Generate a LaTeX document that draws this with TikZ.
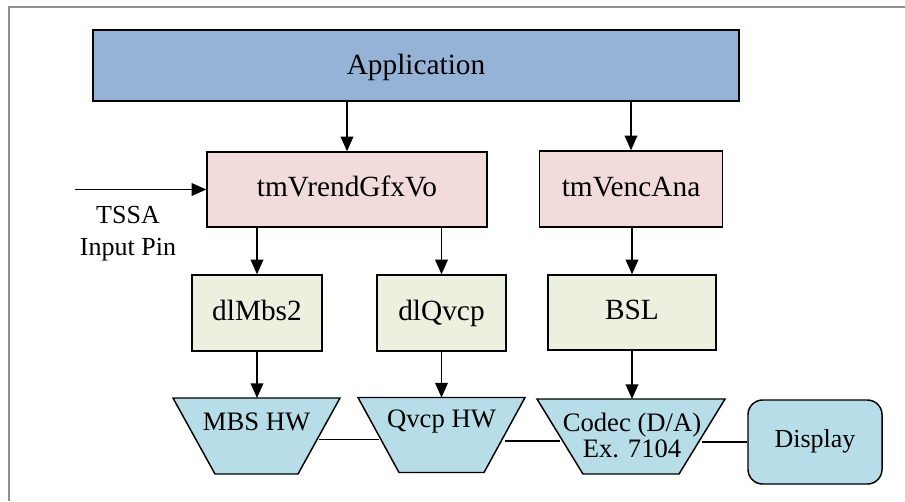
\documentclass[tikz,border=0pt]{standalone}
\usepackage{fontspec}
\setmainfont{Liberation Serif}
\usetikzlibrary{arrows.meta}
\definecolor{appblue}{HTML}{95B3D7}
\definecolor{swpink}{HTML}{F2DCDB}
\definecolor{drvgreen}{HTML}{EBF1DE}
\definecolor{hwblue}{HTML}{B7DEE8}
\definecolor{framegray}{HTML}{909090}
\tikzset{
  box/.style={draw=black, line width=1.1pt, inner sep=0pt,
    font=\fontsize{22pt}{22pt}\selectfont,
    text height=15.5pt, text depth=4.5pt},
  hwanchor/.style={inner sep=0pt, outer sep=0pt},
  hwshape/.style={draw=black, line width=1.1pt, fill=hwblue, line join=miter},
  txt/.style={inner sep=0pt, font=\fontsize{19.5pt}{19.5pt}\selectfont},
  hwtxt/.style={inner sep=0pt, font=\fontsize{20pt}{20pt}\selectfont},
  arr/.style={line width=1.1pt, -{Triangle[length=11pt,width=9.5pt]}},
  link/.style={line width=1.1pt}
}
\begin{document}
\begin{tikzpicture}[x=0.75pt, y=-0.75pt]
\useasboundingbox (0,0) rectangle (905,501);
% frame
\draw[framegray, line width=1.5pt] (8.5,501) -- (8.5,6.5) -- (905,6.5);

% boxes
\node[box, fill=appblue, text height=18.5pt, text depth=4.3pt, minimum width={646*0.75pt}, minimum height={71*0.75pt}] (app) at (416,65.5) {Application};
\node[box, fill=swpink, minimum width={280*0.75pt}, minimum height={75*0.75pt}] (vrend) at (347,189.5) {tmVrendGfxVo};
\node[box, fill=swpink, minimum width={183*0.75pt}, minimum height={76*0.75pt}] (venc) at (631,189) {tmVencAna};
\node[box, fill=drvgreen, minimum width={130*0.75pt}, minimum height={76*0.75pt}] (mbs2) at (257,313) {dlMbs2};
\node[box, fill=drvgreen, minimum width={129*0.75pt}, minimum height={76*0.75pt}] (dlq) at (441.5,313) {dlQvcp};
\node[box, fill=drvgreen, minimum width={168*0.75pt}, minimum height={75*0.75pt}] (bsl) at (632,312.5) {BSL};
\node[box, fill=hwblue, rounded corners=11pt, font=\fontsize{19.5pt}{19.5pt}\selectfont, text height=13.5pt, text depth=6pt, minimum width={134*0.75pt}, minimum height={84*0.75pt}] (disp) at (815,442) {Display};

% hardware trapezoids (anchor rectangles at mid-height width)
\node[hwanchor, minimum width={125*0.75pt}, minimum height={76*0.75pt}] (mbshw) at (256.5,436) {};
\node[hwanchor, minimum width={126*0.75pt}, minimum height={75*0.75pt}] (qvcphw) at (441.5,435) {};
\node[hwanchor, minimum width={142*0.75pt}, minimum height={75*0.75pt}] (codec) at (631,436.5) {};
\draw[hwshape] ([xshift={-21*0.75pt}]mbshw.north west) -- ([xshift={21*0.75pt}]mbshw.north east)
  -- ([xshift={-21*0.75pt}]mbshw.south east) -- ([xshift={21*0.75pt}]mbshw.south west) -- cycle;
\draw[hwshape] ([xshift={-20.5*0.75pt}]qvcphw.north west) -- ([xshift={20.5*0.75pt}]qvcphw.north east)
  -- ([xshift={-20.5*0.75pt}]qvcphw.south east) -- ([xshift={20.5*0.75pt}]qvcphw.south west) -- cycle;
\draw[hwshape] ([xshift={-23*0.75pt}]codec.north west) -- ([xshift={23*0.75pt}]codec.north east)
  -- ([xshift={-23*0.75pt}]codec.south east) -- ([xshift={23*0.75pt}]codec.south west) -- cycle;
\node[hwtxt, anchor=base] (mbst) at (256.5,430) {MBS HW};
\node[hwtxt, anchor=base] (qvcpt) at (441.5,427) {Qvcp HW};
\node[hwtxt, anchor=base] (codect1) at (632,431) {Codec (D/A)};
\node[hwtxt, anchor=base] (codect2) at (632,457) {Ex. 7104};

% input pin
\coordinate (inpin) at (75,189.5);
\node[txt, anchor=base] (tssa) at (128,223) {TSSA};
\node[txt, anchor=base] (inpint) at (128,255) {Input Pin};

% connectors
\draw[arr] (app.south -| vrend.north) -- (vrend.north);
\draw[arr] (app.south -| venc.north) -- (venc.north);
\draw[arr] (inpin) -- (vrend.west);
\draw[arr] (vrend.south -| mbs2.north) -- (mbs2.north);
\draw[arr] (vrend.south -| dlq.north) -- (dlq.north);
\draw[arr] (venc.south -| bsl.north) -- (bsl.north);
\draw[arr] (mbs2.south) -- (mbs2.south |- mbshw.north);
\draw[arr] (dlq.south) -- (dlq.south |- qvcphw.north);
\draw[arr] (bsl.south) -- (bsl.south |- codec.north);
\draw[link] ([yshift=-2.5pt]mbshw.east) -- ([yshift=-2.5pt]mbshw.east -| qvcphw.west);
\draw[link] ([yshift=-4.5pt]qvcphw.east) -- ([yshift=-4.5pt]qvcphw.east -| codec.west);
\draw[link] ([yshift=-4pt]codec.east) -- ([yshift=-4pt]codec.east -| disp.west);
\end{tikzpicture}
\end{document}
